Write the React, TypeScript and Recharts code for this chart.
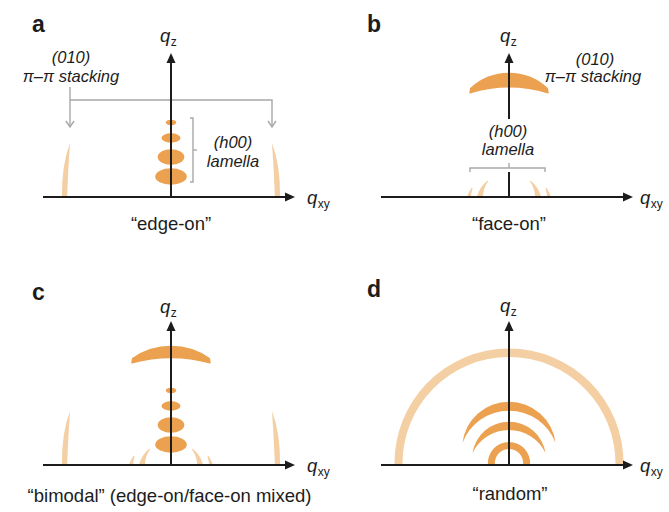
import React from 'react';
import { ScatterChart, Scatter, XAxis, YAxis } from 'recharts';

// ---------------- style constants ----------------
const FONT = '"Liberation Sans", Arial, Helvetica, sans-serif';
const ORANGE = '#EBA14F';
const LIGHT = '#F4CFA3';
const INK = '#1c1c1c';
const GRAY = '#a8a8a8';

// ---------------- layout ----------------
const panelLeft = [0, 330, 0, 330];
const panelTop = [0, 0, 268, 268];
const panelWidth = [330, 339, 330, 339];
const PANEL_H = 244;
const originX = [171, 179, 171, 179];
const ORIGIN_Y = 197;
const PXU = 100; // pixels per q unit (chart width / domain span)

// ---------------- data (q units) ----------------
const panelLetters = ['a', 'b', 'c', 'd'];
const panelCaptions = ['“edge-on”', '“face-on”', '“bimodal” (edge-on/face-on mixed)', '“random”'];

// axes extents
const qxyAxisStart = -1.28;
const qxyAxisEnd = 1.15;
const qzAxisEnd = 1.35;
const faceOnAxisGap = [0.25, 0.78];

// (h00) lamellar peaks along qz (edge-on)
const lamellaQz = [0.745, 0.59, 0.4, 0.205];
const lamellaHalfWidth = [0.052, 0.095, 0.133, 0.158];
const lamellaHalfHeight = [0.027, 0.047, 0.078, 0.083];

// (010) pi-pi peaks in-plane (edge-on)
const stackingInPlaneQxy = [-1.065, 1.065];
const stackingInPlaneTopQxy = [-1.01, 1.01];
const stackingInPlaneTopQz = 0.54;

// (010) pi-pi cap out-of-plane (face-on) for panels b, c
const capOuterHalfWidth = [0.383, 0.383];
const capInnerHalfWidth = [0.39, 0.39];
const capOuterEndQz = [1.085, 1.065];
const capInnerEndQz = [1.042, 1.022];
const capTopQz = [1.235, 1.185];
const capInnerTopQz = [1.1, 1.075];

// (h00) in-plane lamella arcs (face-on)
const inPlaneLamellaQ = [0.29, 0.4];
const inPlaneLamellaTopQ = [0.265, 0.38];
const inPlaneLamellaSpanDeg = [37, 14];

// random: isotropic rings
const randomOuterEnd = [1.145, 0.465, 0.365, 0.21];
const randomOuterTop = [1.165, 0.633, 0.433, 0.23];
const randomInnerEnd = [1.065, 0.465, 0.365, 0.14];
const randomInnerTop = [1.08, 0.543, 0.35, 0.16];
const randomEndQz = [0, 0.22, 0.12, 0];

// annotation texts
const stackingText = ['(010)', 'π–π stacking'];
const lamellaText = ['(h00)', 'lamella'];

// annotation anchors (q units)
const letterPos = [[-1.39, 1.65], [-1.42, 1.65], [-1.39, 1.65], [-1.42, 1.68]];
const qzLabelPos = [[-0.11, 1.55], [-0.09, 1.55], [-0.11, 1.52], [-0.09, 1.53]];
const qxyLabelPos = [[1.36, -0.07], [1.31, -0.07], [1.36, -0.07], [1.31, -0.07]];
const captionPos = [[0, -0.33], [0, -0.33], [-0.015, -0.37], [0.01, -0.35]];
const stackingTextPos = [[[-1.0, 1.34], [-1.0, 1.15]], [[0.86, 1.32], [0.84, 1.15]]];
const lamellaTextPos = [[[0.62, 0.49], [0.62, 0.3]], [[-0.01, 0.6], [-0.01, 0.42]]];

// brackets
const stackBracketLeft = [{ x: -1.01, y: 1.1 }, { x: -1.01, y: 0.7, head: 'down' }];
const stackBracketRight = [{ x: -1.01, y: 0.97 }, { x: 1.01, y: 0.97 }, { x: 1.01, y: 0.7, head: 'down' }];
const lamellaBracketA = [{ x: 0.19, y: 0.79 }, { x: 0.22, y: 0.79 }, { x: 0.22, y: 0.15 }, { x: 0.19, y: 0.15 }];
const lamellaBracketATick = [{ x: 0.22, y: 0.47 }, { x: 0.26, y: 0.47 }];
const lamellaBracketB = [{ x: -0.39, y: 0.25 }, { x: -0.39, y: 0.29 }, { x: 0.36, y: 0.29 }, { x: 0.36, y: 0.25 }];
const lamellaBracketBTick = [{ x: 0, y: 0.29 }, { x: 0, y: 0.34 }];

// ---------------- shape styles ----------------
const SLIVER_THICK = [[6, 1], [4, 1]];
const LABEL_STYLE: Record<string, any> = {
  letter: { anchor: 'start', size: 23, weight: 'bold', style: 'normal' },
  note: { anchor: 'middle', size: 16.5, weight: 'normal', style: 'italic' },
  caption: { anchor: 'middle', size: 18.5, weight: 'normal', style: 'normal' },
};

// ---------------- shapes ----------------
const Empty = () => <g />;

const HeadShape = (p: any) => {
  const h = p.payload && p.payload.head;
  const { cx, cy } = p;
  if (h === 'right') return <path d={`M${cx - 1},${cy - 4.5} L${cx + 9},${cy} L${cx - 1},${cy + 4.5} Z`} fill={INK} />;
  if (h === 'up') return <path d={`M${cx - 4.5},${cy + 1} L${cx},${cy - 9} L${cx + 4.5},${cy + 1} Z`} fill={INK} />;
  if (h === 'down')
    return <path d={`M${cx - 4},${cy - 6} L${cx},${cy} L${cx + 4},${cy - 6}`} fill="none" stroke={GRAY} strokeWidth={1.4} />;
  return <g />;
};

const EllipseShape = (p: any) => (
  <ellipse cx={p.cx} cy={p.cy} rx={p.payload.rx * PXU} ry={p.payload.ry * PXU} fill={ORANGE} />
);

const StreakShape = (p: any) => {
  const d = p.payload;
  const bx = p.cx;
  const by = p.cy;
  const o = Math.sign(d.x);
  const tx = bx + (d.topX - d.x) * PXU;
  const ty = by - d.topY * PXU;
  const h = by - ty;
  const path = `M${bx + o * 2.6},${by} Q${bx + o * 2.9},${by - 0.6 * h} ${tx},${ty} Q${bx - o * 3.6},${by - 0.5 * h} ${bx - o * 2.6},${by} Z`;
  return <path d={path} fill={LIGHT} />;
};

const SliverShape = (p: any) => {
  const d = p.payload;
  const [t0, t1] = SLIVER_THICK[d.k];
  const a0 = d.side < 0 ? 180 : 0;
  const a1 = d.side < 0 ? 180 - d.span : d.span;
  const outer: string[] = [];
  const inner: string[] = [];
  const N = 24;
  for (let i = 0; i <= N; i++) {
    const f = i / N;
    const a = ((a0 + (a1 - a0) * f) * Math.PI) / 180;
    const r = (d.r0 + (d.r1 - d.r0) * f) * PXU;
    const t = t0 + (t1 - t0) * f;
    outer.push(`${p.cx + (r + t / 2) * Math.cos(a)},${p.cy - (r + t / 2) * Math.sin(a)}`);
    inner.push(`${p.cx + (r - t / 2) * Math.cos(a)},${p.cy - (r - t / 2) * Math.sin(a)}`);
  }
  const path = `M${outer.join(' L')} L${inner.reverse().join(' L')} Z`;
  return <path d={path} fill={LIGHT} />;
};

const LensShape = (p: any) => {
  const d = p.payload;
  const cx = p.cx;
  const cy = p.cy;
  const wo = d.wo * PXU;
  const yo = d.yo * PXU;
  const so = (d.to - d.yo) * PXU;
  const wi = d.wi * PXU;
  const yi = d.yi * PXU;
  const si = (d.ti - d.yi) * PXU;
  const Ro = (wo * wo + so * so) / (2 * so);
  const Ri = (wi * wi + si * si) / (2 * si);
  const lo = so > wo ? 1 : 0;
  const li = si > wi ? 1 : 0;
  const path = `M${cx - wo},${cy - yo} A${Ro},${Ro} 0 ${lo} 1 ${cx + wo},${cy - yo} L${cx + wi},${cy - yi} A${Ri},${Ri} 0 ${li} 0 ${cx - wi},${cy - yi} Z`;
  return <path d={path} fill={d.light ? LIGHT : ORANGE} strokeLinejoin="round" stroke={d.light ? LIGHT : ORANGE} strokeWidth={d.round ? 1.5 : 0} />;
};

const LabelShape = (p: any) => {
  const d = p.payload;
  if (d.kind === 'q') {
    return (
      <text x={p.cx} y={p.cy} fontFamily={FONT} fill={INK}>
        <tspan fontSize={18.5} fontStyle="italic">q</tspan>
        <tspan fontSize={12} dx={0.5} dy={4}>{d.sub}</tspan>
      </text>
    );
  }
  const st = LABEL_STYLE[d.kind];
  return (
    <text
      x={p.cx}
      y={p.cy}
      textAnchor={st.anchor}
      fontSize={st.size}
      fontWeight={st.weight}
      fontStyle={st.style}
      fontFamily={FONT}
      fill={INK}
    >
      {d.text}
    </text>
  );
};

// ---------------- builders ----------------
const S = (key: string, data: any[], shape: any, extra: any = {}) => (
  <Scatter key={key} data={data} shape={shape} isAnimationActive={false} {...extra} />
);

const ellipseData = lamellaQz.map((q, i) => ({ x: 0, y: q, rx: lamellaHalfWidth[i], ry: lamellaHalfHeight[i] }));
const streakData = stackingInPlaneQxy.map((x, i) => ({ x, y: 0, topX: stackingInPlaneTopQxy[i], topY: stackingInPlaneTopQz }));
const sliverData = inPlaneLamellaQ.flatMap((q, k) =>
  [-1, 1].map((side) => ({ x: 0, y: 0, r0: q, r1: inPlaneLamellaTopQ[k], span: inPlaneLamellaSpanDeg[k], side, k }))
);
const capData = (j: number) => [
  {
    x: 0,
    y: 0,
    wo: capOuterHalfWidth[j],
    yo: capOuterEndQz[j],
    to: capTopQz[j],
    wi: capInnerHalfWidth[j],
    yi: capInnerEndQz[j],
    ti: capInnerTopQz[j],
    round: true,
  },
];
const ringData = randomOuterEnd.map((w, i) => ({
  x: 0,
  y: 0,
  wo: w,
  yo: randomEndQz[i],
  to: randomOuterTop[i],
  wi: randomInnerEnd[i],
  yi: randomEndQz[i],
  ti: randomInnerTop[i],
  light: i === 0,
}));

const axisLayers = (idx: number) => {
  const out: any[] = [];
  out.push(
    S('hax', [{ x: qxyAxisStart, y: 0 }, { x: qxyAxisEnd, y: 0, head: 'right' }], HeadShape, {
      fill: INK,
      line: { stroke: INK, strokeWidth: 2 },
    })
  );
  if (idx === 1) {
    out.push(S('vax1', [{ x: 0, y: 0 }, { x: 0, y: faceOnAxisGap[0] }], Empty, { fill: INK, line: { stroke: INK, strokeWidth: 2 } }));
    out.push(
      S('vax2', [{ x: 0, y: faceOnAxisGap[1] }, { x: 0, y: qzAxisEnd, head: 'up' }], HeadShape, {
        fill: INK,
        line: { stroke: INK, strokeWidth: 2 },
      })
    );
  } else {
    out.push(
      S('vax', [{ x: 0, y: 0 }, { x: 0, y: qzAxisEnd, head: 'up' }], HeadShape, {
        fill: INK,
        line: { stroke: INK, strokeWidth: 2 },
      })
    );
  }
  return out;
};

const grayLine = (key: string, data: any[]) =>
  S(key, data, HeadShape, { fill: GRAY, line: { stroke: GRAY, strokeWidth: 1.4 } });

const labelData = (idx: number) => {
  const items: any[] = [
    { x: letterPos[idx][0], y: letterPos[idx][1], text: panelLetters[idx], kind: 'letter' },
    { x: qzLabelPos[idx][0], y: qzLabelPos[idx][1], sub: 'z', kind: 'q' },
    { x: qxyLabelPos[idx][0], y: qxyLabelPos[idx][1], sub: 'xy', kind: 'q' },
    { x: captionPos[idx][0], y: captionPos[idx][1], text: panelCaptions[idx], kind: 'caption' },
  ];
  if (idx === 0 || idx === 1) {
    stackingText.forEach((t, i) => items.push({ x: stackingTextPos[idx][i][0], y: stackingTextPos[idx][i][1], text: t, kind: 'note' }));
    lamellaText.forEach((t, i) => items.push({ x: lamellaTextPos[idx][i][0], y: lamellaTextPos[idx][i][1], text: t, kind: 'note' }));
  }
  return items;
};

const buildLayers = (idx: number) => {
  const L: any[] = [];
  if (idx === 0) {
    L.push(S('streak', streakData, StreakShape));
    L.push(S('ell', ellipseData, EllipseShape));
    L.push(grayLine('brL', stackBracketLeft));
    L.push(grayLine('brR', stackBracketRight));
    L.push(grayLine('lbA', lamellaBracketA));
    L.push(grayLine('lbAt', lamellaBracketATick));
  } else if (idx === 1) {
    L.push(S('cap', capData(0), LensShape));
    L.push(S('sliver', sliverData, SliverShape));
    L.push(grayLine('lbB', lamellaBracketB));
    L.push(grayLine('lbBt', lamellaBracketBTick));
  } else if (idx === 2) {
    L.push(S('streak', streakData, StreakShape));
    L.push(S('sliver', sliverData, SliverShape));
    L.push(S('cap', capData(1), LensShape));
    L.push(S('ell', ellipseData, EllipseShape));
  } else {
    L.push(S('rings', ringData, LensShape));
  }
  axisLayers(idx).forEach((a) => L.push(a));
  L.push(S('labels', labelData(idx), LabelShape));
  return L;
};

function Panel({ index }: { index: number }) {
  const w = panelWidth[index];
  const ox = originX[index];
  const xDomain: [number, number] = [-ox / PXU, (w - ox) / PXU];
  const yDomain: [number, number] = [-(PANEL_H - ORIGIN_Y) / PXU, ORIGIN_Y / PXU];
  return (
    <ScatterChart width={w} height={PANEL_H} margin={{ top: 0, right: 0, bottom: 0, left: 0 }}>
      <XAxis type="number" dataKey="x" domain={xDomain} hide />
      <YAxis type="number" dataKey="y" domain={yDomain} hide />
      {buildLayers(index)}
    </ScatterChart>
  );
}

export default function App() {
  return (
    <div style={{ position: 'absolute', left: 0, top: 0, width: 669, height: 512, background: '#fff', overflow: 'hidden' }}>
      {[0, 1, 2, 3].map((i) => (
        <div key={i} style={{ position: 'absolute', left: panelLeft[i], top: panelTop[i], width: panelWidth[i], height: PANEL_H }}>
          <Panel index={i} />
        </div>
      ))}
    </div>
  );
}
